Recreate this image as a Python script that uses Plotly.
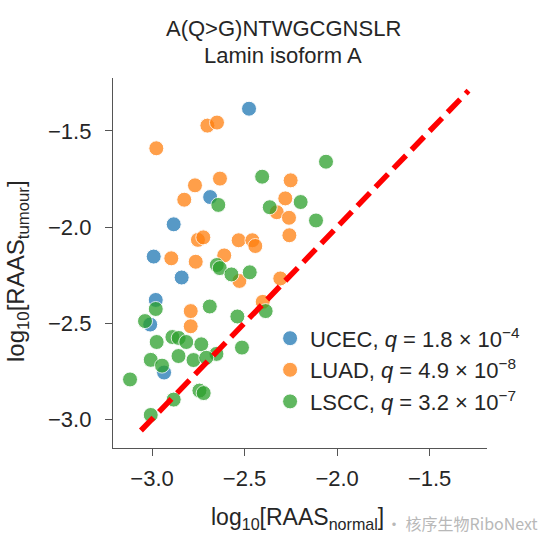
import plotly.graph_objects as go

# ---- data (log10 RAAS normal vs tumour) ----
ucec_x = [-2.476, -2.686, -2.883, -2.991, -2.840, -2.980, -3.010, -2.935]
ucec_y = [-1.384, -1.844, -1.986, -2.154, -2.263, -2.380, -2.508, -2.758]

luad_x = [-2.701, -2.649, -2.977, -2.633, -2.768, -2.826, -2.251, -2.280,
          -2.326, -2.260, -2.258, -2.752, -2.723, -2.532, -2.458, -2.442,
          -2.896, -2.764, -2.610, -2.528, -2.307, -2.402, -2.791, -2.791]
luad_y = [-1.472, -1.456, -1.590, -1.748, -1.783, -1.858, -1.757, -1.851,
          -1.923, -1.952, -2.043, -2.067, -2.054, -2.069, -2.069, -2.099,
          -2.163, -2.181, -2.148, -2.281, -2.268, -2.390, -2.438, -2.517]

lscc_x = [-2.060, -2.405, -2.197, -2.364, -2.114, -2.642, -2.650, -2.634,
          -2.571, -2.472, -2.980, -2.688, -2.386, -2.539, -3.038, -2.975,
          -2.890, -2.856, -2.815, -2.734, -2.514, -2.652, -3.007, -2.857,
          -2.776, -2.707, -2.946, -3.119, -2.744, -2.721, -2.883, -3.007]
lscc_y = [-1.660, -1.738, -1.870, -1.897, -1.966, -1.885, -2.198, -2.214,
          -2.247, -2.236, -2.427, -2.414, -2.438, -2.466, -2.490, -2.599,
          -2.573, -2.578, -2.599, -2.611, -2.628, -2.661, -2.692, -2.672,
          -2.693, -2.681, -2.722, -2.794, -2.852, -2.865, -2.899, -2.979]

diag = [-3.06, -1.29]

labels = ["UCEC, <i>q</i> = 1.8 × 10<sup>−4</sup>",
          "LUAD, <i>q</i> = 4.9 × 10<sup>−8</sup>",
          "LSCC, <i>q</i> = 3.2 × 10<sup>−7</sup>"]
colors = ["#1f77b4", "#ff7f0e", "#2ca02c"]

tick_vals = [-3.0, -2.5, -2.0, -1.5]
tick_text = ["−3.0", "−2.5", "−2.0", "−1.5"]

title_lines = ["A(Q&gt;G)NTWGCGNSLR", "Lamin isoform A"]
x_title = "log<sub>10</sub>[RAAS<sub>normal</sub>]"
y_title = "log<sub>10</sub>[RAAS<sub>tumour</sub>]"
watermark = "· 核序生物RiboNext"

FONT = "Liberation Sans, Arial, Helvetica, sans-serif"
TXT = "#262626"

fig = go.Figure()
for xs, ys, lab, col in [(ucec_x, ucec_y, labels[0], colors[0]),
                         (luad_x, luad_y, labels[1], colors[1]),
                         (lscc_x, lscc_y, labels[2], colors[2])]:
    fig.add_trace(go.Scatter(
        x=xs, y=ys, mode="markers", name=lab,
        marker=dict(size=15, color=col, opacity=0.75,
                    line=dict(color="white", width=1)),
    ))

fig.add_trace(go.Scatter(
    x=diag, y=diag, mode="lines", showlegend=False,
    line=dict(color="#ff0000", width=5.5, dash="18px,8px"),
))

axis_common = dict(
    showgrid=False, zeroline=False, showline=True, linecolor="#555555",
    linewidth=1.3, ticks="outside", ticklen=7, tickwidth=1.3,
    tickcolor="#555555", tickvals=tick_vals, ticktext=tick_text,
    tickfont=dict(family=FONT, size=22, color=TXT), mirror=False,
)

PW, PH = 374, 370  # plot area size in px


def px_x(p):
    return (p - 113) / PW


def px_y(p):
    return (448 - p) / PH


fig.update_layout(
    width=554, height=545,
    margin=dict(l=113, r=67, t=78, b=97),
    paper_bgcolor="white", plot_bgcolor="white",
    font=dict(family=FONT, color=TXT),
    xaxis=dict(range=[-3.211, -1.19], ticklabelstandoff=3, **axis_common),
    yaxis=dict(range=[-3.151, -1.224], ticklabelstandoff=9, **axis_common),
    legend=dict(x=0.42, y=0.353, xanchor="left", yanchor="top",
                bgcolor="rgba(0,0,0,0)", borderwidth=0,
                font=dict(family=FONT, size=22, color=TXT),
                tracegroupgap=0),
    showlegend=True,
    annotations=[
        dict(text=title_lines[0], xref="paper", yref="paper",
             x=px_x(283), y=px_y(28), xanchor="center", yanchor="middle",
             showarrow=False, font=dict(family=FONT, size=22, color=TXT)),
        dict(text=title_lines[1], xref="paper", yref="paper",
             x=px_x(283), y=px_y(56), xanchor="center", yanchor="middle",
             showarrow=False, font=dict(family=FONT, size=22, color=TXT)),
        dict(text=x_title, xref="paper", yref="paper",
             x=px_x(297), y=px_y(518),
             xanchor="center", yanchor="middle", showarrow=False,
             font=dict(family=FONT, size=23, color=TXT)),
        dict(text=y_title, xref="paper", yref="paper",
             x=px_x(17), y=px_y(271),
             xanchor="center", yanchor="middle", showarrow=False,
             textangle=-90,
             font=dict(family=FONT, size=24, color=TXT)),
        dict(text=watermark, xref="paper", yref="paper",
             x=px_x(462), y=px_y(523), xanchor="center",
             yanchor="middle", showarrow=False,
             font=dict(family="Noto Sans CJK SC", size=16, color="#b8b8b8")),
    ],
)

fig.write_html("out.html")
